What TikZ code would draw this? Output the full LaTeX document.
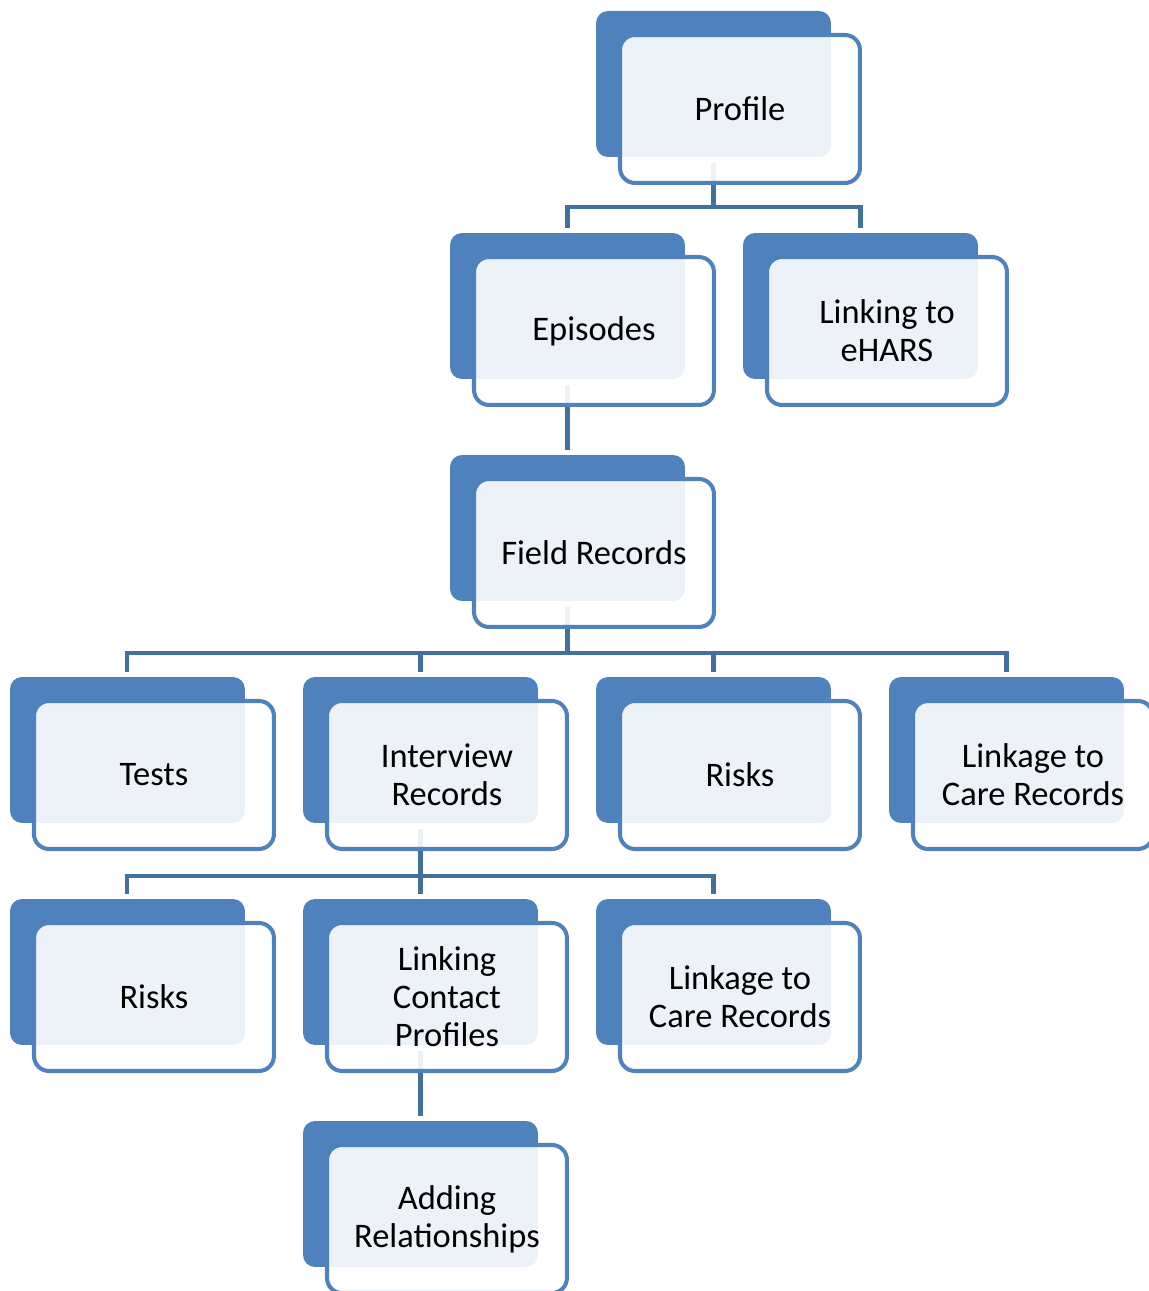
\documentclass[tikz,border=0pt]{standalone}
\usepackage{fontspec}
\setmainfont{Carlito}
\usetikzlibrary{positioning}
\usetikzlibrary{calc}
\definecolor{color-box}{RGB}{79,129,189}
\definecolor{color-line}{RGB}{65,113,156}

\begin{document}
\begin{tikzpicture}[x=0.02cm, y=-0.02cm,
back/.style={rectangle, rounded corners=0.24cm, fill=color-box, minimum width=4.7cm, minimum height=2.92cm, anchor=north west, inner sep=0pt, outer sep=0pt},
front/.style={rectangle, rounded corners=0.3cm, draw=color-box, line width=2.3pt, fill=white, fill opacity=0.9, text opacity=1, minimum width=4.8cm, minimum height=2.96cm, anchor=north west, align=center, inner sep=0pt, outer sep=0pt, font=\fontsize{19.6}{21.6}\selectfont},
conn/.style={color-line, line width=2.3pt}]
\useasboundingbox (0,0) rectangle (1149,1291);
\clip (0,0) rectangle (1149,1291);

% back boxes
\node [back] (profB) at (596,11) {};
\node [back] (epiB) at (450,233) {};
\node [back] (ehB) at (743,233) {};
\node [back] (fieldB) at (450,455) {};
\node [back] (testB) at (10,677) {};
\node [back] (interB) at (303,677) {};
\node [back] (riskB) at (596,677) {};
\node [back] (careB) at (889,677) {};
\node [back] (riskiB) at (10,899) {};
\node [back] (contB) at (303,899) {};
\node [back] (careiB) at (596,899) {};
\node [back] (relB) at (303,1121) {};

% connectors
\draw[conn] ($(profB.south)+(0,6)$) -- ++(0,44) -| ($(epiB.north)+(0,-5)$);
\draw[conn] ($(profB.south)+(0,6)$) -- ++(0,44) -| ($(ehB.north)+(0,-5)$);
\draw[conn] ($(epiB.south)+(0,6)$) -- ($(fieldB.north)+(0,-5)$);
\draw[conn] ($(fieldB.south)+(0,6)$) -- ++(0,46) -| ($(testB.north)+(0,-5)$);
\draw[conn] ($(fieldB.south)+(0,6)$) -- ++(0,46) -| ($(interB.north)+(0,-5)$);
\draw[conn] ($(fieldB.south)+(0,6)$) -- ++(0,46) -| ($(riskB.north)+(0,-5)$);
\draw[conn] ($(fieldB.south)+(0,6)$) -- ++(0,46) -| ($(careB.north)+(0,-5)$);
\draw[conn] ($(interB.south)+(0,6)$) -- ++(0,47) -| ($(riskiB.north)+(0,-5)$);
\draw[conn] ($(interB.south)+(0,6)$) -- ++(0,47) -| ($(contB.north)+(0,-5)$);
\draw[conn] ($(interB.south)+(0,6)$) -- ++(0,47) -| ($(careiB.north)+(0,-5)$);
\draw[conn] ($(contB.south)+(0,6)$) -- ($(relB.north)+(0,-5)$);

% front boxes with the texts
\node [front] (prof) at ($(profB.north west)+(24,24)$) {Profile};
\node [front] (epi) at ($(epiB.north west)+(24,24)$) {Episodes};
\node [front] (eh) at ($(ehB.north west)+(24,24)$) {Linking to\\eHARS};
\node [front] (field) at ($(fieldB.north west)+(24,24)$) {Field Records};
\node [front] (test) at ($(testB.north west)+(24,24)$) {Tests};
\node [front] (inter) at ($(interB.north west)+(24,24)$) {Interview\\Records};
\node [front] (risk) at ($(riskB.north west)+(24,24)$) {Risks};
\node [front] (care) at ($(careB.north west)+(24,24)$) {Linkage to\\Care Records};
\node [front] (riski) at ($(riskiB.north west)+(24,24)$) {Risks};
\node [front] (cont) at ($(contB.north west)+(24,24)$) {Linking\\Contact\\Profiles};
\node [front] (carei) at ($(careiB.north west)+(24,24)$) {Linkage to\\Care Records};
\node [front] (rel) at ($(relB.north west)+(24,24)$) {Adding\\Relationships};
\end{tikzpicture}
\end{document}
